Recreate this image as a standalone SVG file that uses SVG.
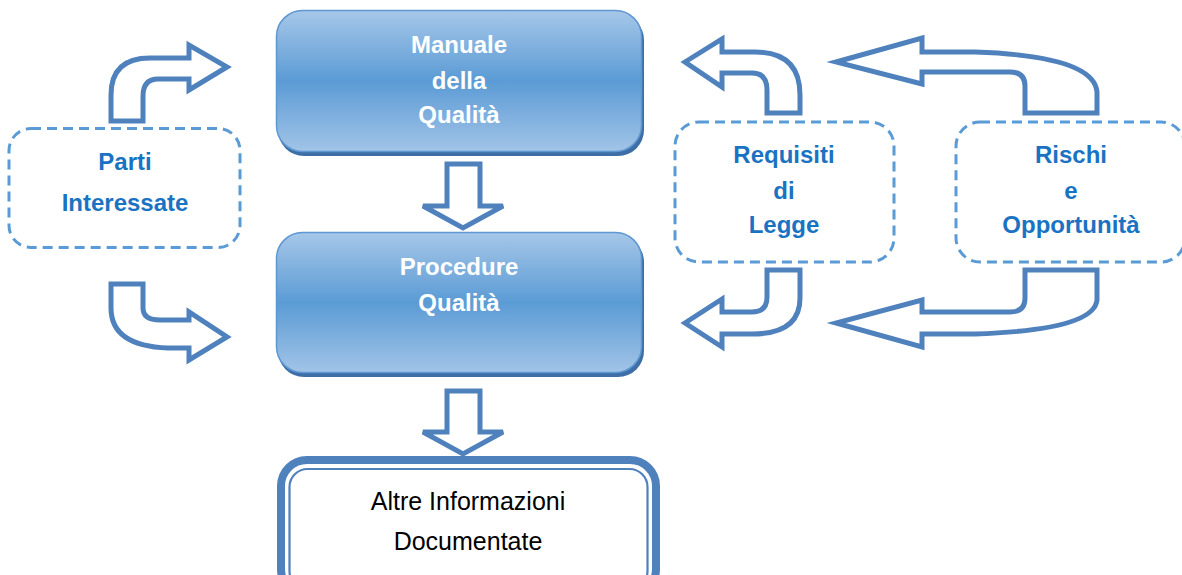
<svg xmlns="http://www.w3.org/2000/svg" width="1182" height="575" viewBox="0 0 1182 575">
<defs>
<linearGradient id="boxGrad" x1="0" y1="0" x2="0" y2="1">
<stop offset="0" stop-color="#a6c7e8"/>
<stop offset="0.5" stop-color="#5b9bd5"/>
<stop offset="1" stop-color="#a2c4e7"/>
</linearGradient>
<style>
.arrow{fill:#ffffff;stroke:#4f81bd;stroke-width:5;stroke-linejoin:miter}
.dash{fill:#ffffff;stroke:#5b9bd5;stroke-width:3;stroke-dasharray:10 6}
.wt{font-family:"Liberation Sans",Arial,sans-serif;font-weight:bold;font-size:24px;fill:#ffffff;text-anchor:middle}
.bt{font-family:"Liberation Sans",Arial,sans-serif;font-weight:bold;font-size:24px;fill:#1a73c2;text-anchor:middle}
.kt{font-family:"Liberation Sans",Arial,sans-serif;font-size:25px;fill:#000000;text-anchor:middle}
.shadow{fill:#3d6fa6}
.blue{fill:url(#boxGrad);stroke:#5e97d2;stroke-width:1.5}
</style>
</defs>
<rect width="1182" height="575" fill="#ffffff"/>

<g id="manuale">
<rect class="shadow" x="278" y="14" width="366" height="142" rx="26"/>
<rect class="blue" x="276.5" y="10.5" width="365" height="141" rx="26"/>
<text class="wt" x="459" y="53">Manuale</text>
<text class="wt" x="459" y="89">della</text>
<text class="wt" x="459" y="123">Qualità</text>
</g>

<g id="procedure">
<rect class="shadow" x="278" y="236" width="366" height="141" rx="26"/>
<rect class="blue" x="276.5" y="232.5" width="365" height="140" rx="26"/>
<text class="wt" x="459" y="275">Procedure</text>
<text class="wt" x="459" y="311">Qualità</text>
</g>

<g id="altre">
<rect x="281" y="460" width="375" height="135" rx="26" fill="#ffffff" stroke="#4f81bd" stroke-width="8"/>
<rect x="289.5" y="469" width="358" height="120" rx="18" fill="none" stroke="#4f81bd" stroke-width="2.2"/>
<text class="kt" x="468" y="510">Altre Informazioni</text>
<text class="kt" x="468" y="550">Documentate</text>
</g>

<g id="parti">
<rect class="dash" x="9" y="128.5" width="231" height="119" rx="22"/>
<text class="bt" x="125" y="170">Parti</text>
<text class="bt" x="125" y="211">Interessate</text>
</g>

<g id="requisiti">
<rect class="dash" x="675" y="122" width="219" height="140" rx="24"/>
<text class="bt" x="784" y="163">Requisiti</text>
<text class="bt" x="784" y="199">di</text>
<text class="bt" x="784" y="233">Legge</text>
</g>

<g id="rischi">
<rect class="dash" x="956" y="122" width="229" height="140" rx="24"/>
<text class="bt" x="1071" y="163">Rischi</text>
<text class="bt" x="1071" y="199">e</text>
<text class="bt" x="1071" y="233">Opportunità</text>
</g>

<g id="connectors">
<path class="arrow" d="M 111 121 L 111 95 Q 111 58 150 58 L 189 58 L 189 45 L 227 67 L 189 90 L 189 79 L 158 79 Q 143 79 143 96 L 143 121 Z"/>
<path class="arrow" d="M 111 284 L 143 284 L 143 308 Q 143 320 160 320 L 189 320 L 189 312 L 227 337 L 189 360 L 189 348 L 168 348 Q 111 346 111 308 Z"/>
<path class="arrow" d="M 447 164 L 480 164 L 480 206 L 503 206 L 463 228 L 423 206 L 447 206 Z"/>
<path class="arrow" d="M 447 391 L 480 391 L 480 432 L 503 432 L 463 454 L 423 432 L 447 432 Z"/>
<path class="arrow" d="M 800 113 L 800 95 Q 800 52 755 52 L 722 52 L 722 39 L 685 62 L 722 87 L 722 73 L 752 73 Q 767 73 767 90 L 767 113 Z"/>
<path class="arrow" d="M 767 270 L 800 270 L 800 298 Q 800 334 752 334 L 722 334 L 722 347 L 685 323 L 722 299 L 722 312 L 752 312 Q 767 312 767 297 Z"/>
<path class="arrow" d="M 1097 113 L 1097 92 Q 1094 56 975 52 L 922 52 L 922 38 L 836 62 L 922 84 L 922 72 L 1010 72 Q 1025 72 1025 86 L 1025 113 Z"/>
<path class="arrow" d="M 1025 270 L 1097 270 L 1097 300 Q 1094 330 975 334 L 922 334 L 922 347 L 836 323 L 922 300 L 922 312 L 1010 312 Q 1025 312 1025 298 Z"/>
</g>
</svg>
